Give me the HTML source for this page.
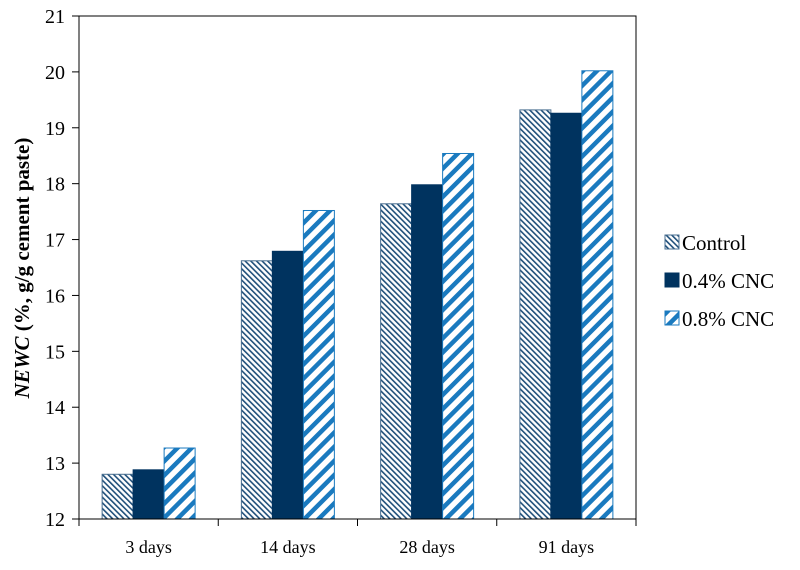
<!DOCTYPE html>
<html><head><meta charset="utf-8"><style>
body{margin:0;background:#fff;}
svg text{font-family:"Liberation Serif",serif;fill:#000;}
</style></head><body>
<svg id="chart" width="800" height="565" xmlns="http://www.w3.org/2000/svg">
<defs>
<pattern id="patCtrl" patternUnits="userSpaceOnUse" width="4" height="4" patternTransform="rotate(-45)">
<rect width="4" height="4" fill="#fff"/><rect width="1.6" height="4" fill="#1f4f7a"/></pattern>
<pattern id="patHi" patternUnits="userSpaceOnUse" width="10" height="10" patternTransform="rotate(45)">
<rect width="10" height="10" fill="#fff"/><rect width="4.5" height="10" fill="#1a7abf"/></pattern>
</defs>
<g id="plot"></g>
</svg>
<script>
const categories=["3 days","14 days","28 days","91 days"];
const seriesNames=["Control","0.4% CNC","0.8% CNC"];
const control=[12.8,16.62,17.64,19.32];
const cnc04=[12.88,16.79,17.98,19.26];
const cnc08=[13.27,17.52,18.54,20.02];
const yTicks=[12,13,14,15,16,17,18,19,20,21];
const NS="http://www.w3.org/2000/svg";
const L=79,R=636,T=16,B=519,yMin=12,yMax=21;
const y=v=>B-(v-yMin)/(yMax-yMin)*(B-T);
const cw=(R-L)/categories.length;
const x=i=>L+i*cw;
const g=document.getElementById('plot');
function mk(t,a){const e=document.createElementNS(NS,t);for(const k in a)e.setAttribute(k,a[k]);g.appendChild(e);return e;}
const border=mk('rect',{x:L,y:T,width:R-L,height:B-T,fill:'none',stroke:'#000','stroke-width':1});


const fills=['url(#patCtrl)','#00335f','url(#patHi)'];
const strokes=['#4a6f90','#00335f','#1a7abf'];
const series=[control,cnc04,cnc08];
const bw=31;
series.forEach((s,si)=>{s.forEach((v,i)=>{
const bx=x(i)+cw/2-1.5*bw+si*bw;
const r=mk('rect',{x:bx,y:y(v),width:bw,height:B-y(v),fill:fills[si],stroke:strokes[si],'stroke-width':1});


});});
mk('line',{x1:L,y1:B,x2:R,y2:B,stroke:'#000'});
yTicks.forEach(v=>{
mk('line',{x1:L-7,y1:y(v),x2:L,y2:y(v),stroke:'#000'});
const t=mk('text',{x:L-14,y:y(v)+7,'text-anchor':'end','font-size':20});t.textContent=v;


});
for(let i=0;i<=categories.length;i++)mk('line',{x1:x(i),y1:B,x2:x(i),y2:B+7,stroke:'#000'});
categories.forEach((c,i)=>{const t=mk('text',{x:x(i)+cw/2,y:B+34,'text-anchor':'middle','font-size':18});t.textContent=c;

});
const yt=mk('text',{x:0,y:0,transform:'translate(29,268) rotate(-90)','text-anchor':'middle','font-size':21,'font-weight':'bold'});
yt.innerHTML='<tspan font-style="italic">NEWC</tspan> (%, g/g cement paste)';


const legY=[244,282,320];
seriesNames.forEach((n,si)=>{
const r=mk('rect',{x:665,y:legY[si]-9,width:14,height:14,fill:fills[si],stroke:strokes[si]});


const t=mk('text',{x:682,y:legY[si]+6,'font-size':21});t.textContent=n;


});
</script>
</body></html>
